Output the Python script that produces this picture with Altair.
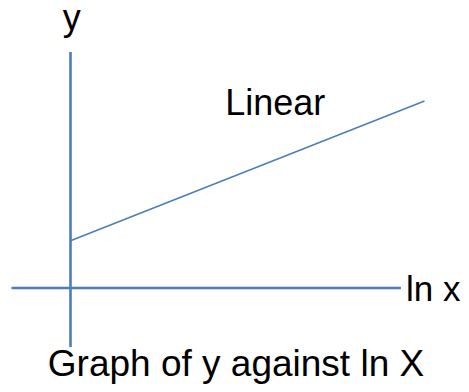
import altair as alt
import pandas as pd

# ---- data (schematic units: origin at the axis crossing) ----
axis_names = ["ln x axis", "y axis"]
axis_x = [-1.0, 0.0]
axis_x2 = [5.6, 0.0]
axis_y = [0.0, -1.0]
axis_y2 = [0.0, 4.0]

line_x = [0.0, 6.0]
line_y = [0.8, 3.17]

center_labels = ["y", "Linear"]
center_label_x = [0.02, 3.47]
center_label_y = [4.37, 2.93]

left_labels = ["ln x"]
left_label_x = [5.686]
left_label_y = [-0.22]

caption = ["Graph of y against ln X"]
caption_x = [2.805]
caption_y = [-1.49]

# ---- scales ----
U = 59.0
X_DOMAIN = [(8 - 70.5) / U, (461 - 70.5) / U]
Y_DOMAIN = [(288 - 384) / U, (288 - 8) / U]
xs = alt.Scale(domain=X_DOMAIN, nice=False, zero=False)
ys = alt.Scale(domain=Y_DOMAIN, nice=False, zero=False)

BLUE = "#4A7EBB"
FONT = "Liberation Sans"

axes_df = pd.DataFrame({"name": axis_names, "x": axis_x, "x2": axis_x2,
                        "y": axis_y, "y2": axis_y2})
line_df = pd.DataFrame({"x": line_x, "y": line_y})
clab_df = pd.DataFrame({"t": center_labels, "x": center_label_x, "y": center_label_y})
llab_df = pd.DataFrame({"t": left_labels, "x": left_label_x, "y": left_label_y})
cap_df = pd.DataFrame({"t": caption, "x": caption_x, "y": caption_y})

X = alt.X("x:Q", scale=xs, axis=None)
Y = alt.Y("y:Q", scale=ys, axis=None)

axes = alt.Chart(axes_df).mark_rule(color=BLUE, strokeWidth=2.6).encode(
    x=X, x2="x2:Q", y=Y, y2="y2:Q",
)

line = alt.Chart(line_df).mark_line(color=BLUE, strokeWidth=1.5).encode(x=X, y=Y)

ctext = alt.Chart(clab_df).mark_text(
    font=FONT, fontSize=36, color="black", align="center", baseline="alphabetic"
).encode(x=X, y=Y, text="t:N")

ltext = alt.Chart(llab_df).mark_text(
    font=FONT, fontSize=35, color="black", align="left", baseline="alphabetic"
).encode(x=X, y=Y, text="t:N")

captext = alt.Chart(cap_df).mark_text(
    font=FONT, fontSize=37, color="black", align="center", baseline="alphabetic"
).encode(x=X, y=Y, text="t:N")

chart = alt.layer(axes, line, ctext, ltext, captext).properties(
    width=453, height=376, padding=0,
    autosize=alt.AutoSizeParams(type="none"),
    background="white",
).configure_view(stroke=None)

chart.save("out.html", embed_options={"renderer": "svg", "actions": False})
